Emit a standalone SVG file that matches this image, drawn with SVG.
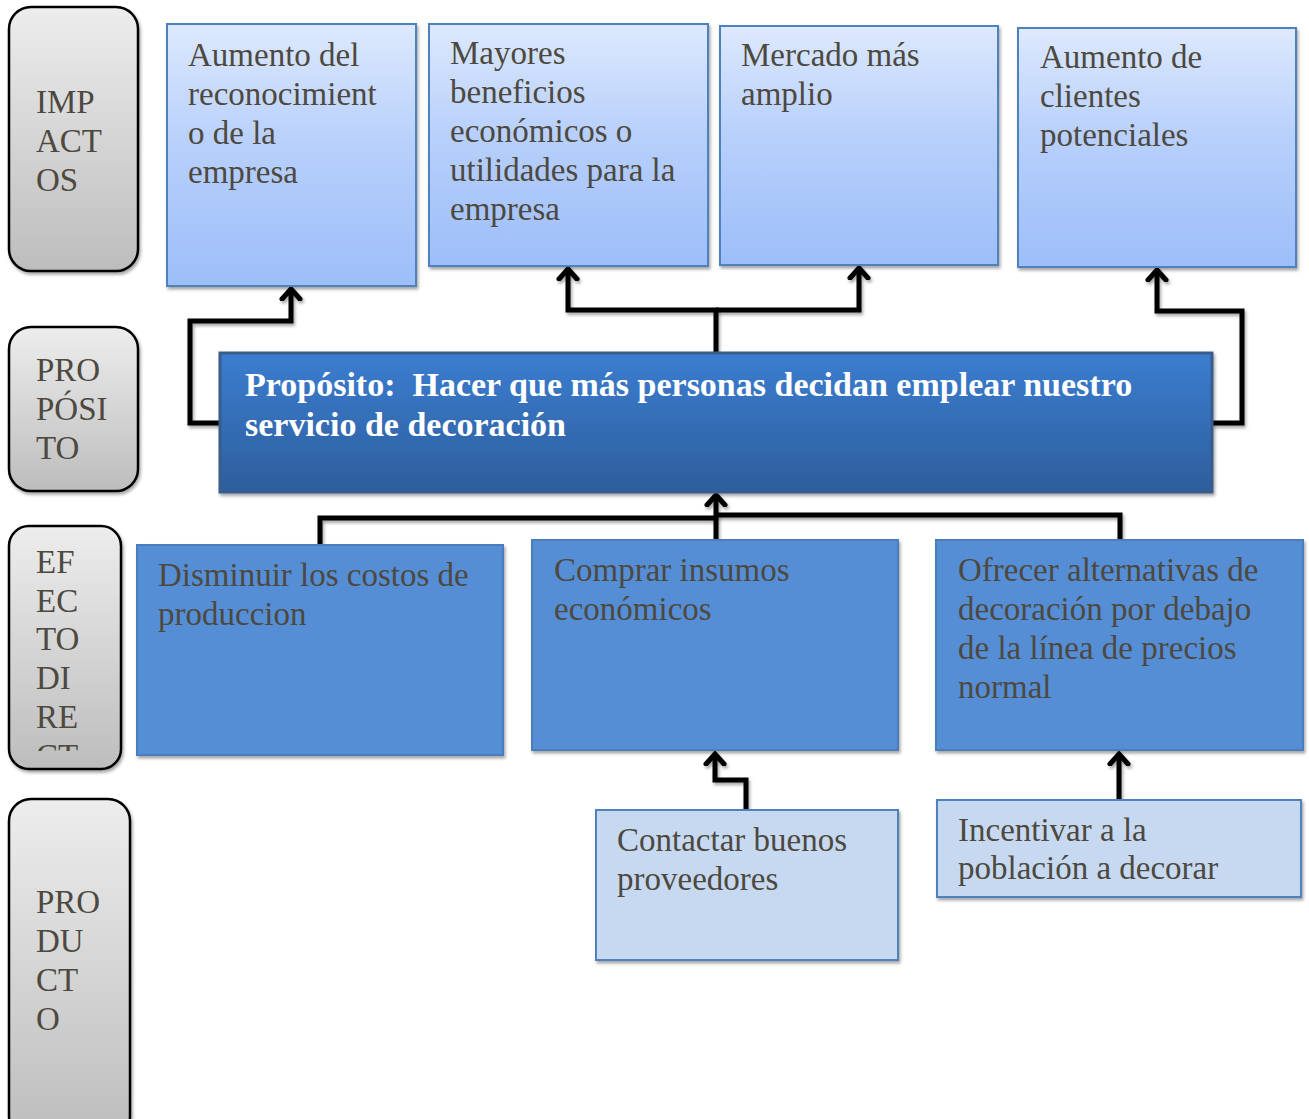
<svg xmlns="http://www.w3.org/2000/svg" width="1309" height="1119" viewBox="0 0 1309 1119">
  <defs>
    <linearGradient id="gGray" x1="0" y1="0" x2="0" y2="1">
      <stop offset="0" stop-color="#ededed"/>
      <stop offset="1" stop-color="#bdbdbd"/>
    </linearGradient>
    <linearGradient id="gLight" x1="0" y1="0" x2="0" y2="1">
      <stop offset="0" stop-color="#dde9fd"/>
      <stop offset="0.45" stop-color="#b8d0fb"/>
      <stop offset="1" stop-color="#9dbef9"/>
    </linearGradient>
    <linearGradient id="gDark" x1="0" y1="0" x2="0" y2="1">
      <stop offset="0" stop-color="#3b7dd0"/>
      <stop offset="1" stop-color="#2e5e9c"/>
    </linearGradient>
    <filter id="shadow" x="-10%" y="-10%" width="120%" height="120%">
      <feDropShadow dx="1.5" dy="2.5" stdDeviation="1.8" flood-color="#000" flood-opacity="0.35"/>
    </filter>
    <!-- lines can have a zero-width box, so their shadow uses a fixed page region -->
    <filter id="lineShadow" filterUnits="userSpaceOnUse" x="0" y="0" width="1309" height="1119">
      <feDropShadow dx="1.5" dy="2.5" stdDeviation="1.8" flood-color="#000" flood-opacity="0.35"/>
    </filter>
    <clipPath id="clipEfecto">
      <rect x="10" y="527" width="110" height="224"/>
    </clipPath>
    <marker id="arrow" markerUnits="userSpaceOnUse" viewBox="-12 -12 24 24" markerWidth="24" markerHeight="24" refX="0" refY="0" orient="auto">
      <path d="M -10 -9 L 0 0 L -10 9" fill="none" stroke="#000" stroke-width="5" stroke-linecap="round" stroke-linejoin="miter"/>
    </marker>
    <style>
      .label { fill: url(#gGray); stroke: #000; stroke-width: 2.5; filter: url(#shadow); }
      .impact { fill: url(#gLight); stroke: #4f81bd; stroke-width: 2; filter: url(#shadow); }
      .purpose { fill: url(#gDark); stroke: #385d8a; stroke-width: 3; filter: url(#shadow); }
      .effect { fill: #558ed5; stroke: #4a7ebb; stroke-width: 2; filter: url(#shadow); }
      .product { fill: #c6d9f1; stroke: #4f81bd; stroke-width: 2; filter: url(#shadow); }
      text { font-family: "Liberation Serif", "DejaVu Serif", serif; font-size: 33px; fill: #4d4940; }
      .bold { font-weight: bold; fill: #ffffff; font-size: 34px; }
      .conn { fill: none; stroke: #000; stroke-width: 5; stroke-linejoin: miter; filter: url(#lineShadow); }
    </style>
  </defs>

  <rect width="1309" height="1119" fill="#ffffff"/>

  <!-- row labels -->
  <g id="label-impactos">
    <rect class="label" x="9" y="7" width="129" height="264" rx="22"/>
    <text x="36" y="113">IMP</text>
    <text x="36" y="152">ACT</text>
    <text x="36" y="191">OS</text>
  </g>
  <g id="label-proposito">
    <rect class="label" x="9" y="327" width="129" height="164" rx="22"/>
    <text x="36" y="381">PRO</text>
    <text x="36" y="420">PÓSI</text>
    <text x="36" y="459">TO</text>
  </g>
  <g id="label-efecto">
    <rect class="label" x="9" y="526" width="112" height="243" rx="20"/>
    <g clip-path="url(#clipEfecto)">
      <text x="36" y="573">EF</text>
      <text x="36" y="612">EC</text>
      <text x="36" y="650">TO</text>
      <text x="36" y="689">DI</text>
      <text x="36" y="728">RE</text>
      <text x="36" y="767">CT</text>
    </g>
  </g>
  <g id="label-producto">
    <rect class="label" x="9" y="799" width="121" height="340" rx="22"/>
    <text x="36" y="913">PRO</text>
    <text x="36" y="952">DU</text>
    <text x="36" y="991">CT</text>
    <text x="36" y="1030">O</text>
  </g>

  <!-- connectors -->
  <g id="connectors">
    <path class="conn" d="M 221 423 L 190 423 L 190 321 L 291 321 L 291 289" marker-end="url(#arrow)"/>
    <path class="conn" d="M 716 353 L 716 310 L 568 310 L 568 269" marker-end="url(#arrow)"/>
    <path class="conn" d="M 716 310 L 859 310 L 859 268" marker-end="url(#arrow)"/>
    <path class="conn" d="M 1212 423 L 1242 423 L 1242 311 L 1157 311 L 1157 270" marker-end="url(#arrow)"/>
    <path class="conn" d="M 320 545 L 320 518 L 716 518"/>
    <path class="conn" d="M 1120 540 L 1120 515 L 716 515"/>
    <path class="conn" d="M 716 540 L 716 495" marker-end="url(#arrow)"/>
    <path class="conn" d="M 746 810 L 746 780 L 715 780 L 715 754" marker-end="url(#arrow)"/>
    <path class="conn" d="M 1119 800 L 1119 754" marker-end="url(#arrow)"/>
  </g>

  <!-- impacts -->
  <g id="impacto-reconocimiento">
    <rect class="impact" x="167" y="24" width="249" height="262"/>
    <text x="188" y="66">Aumento del</text>
    <text x="188" y="105">reconocimient</text>
    <text x="188" y="144">o de la</text>
    <text x="188" y="183">empresa</text>
  </g>
  <g id="impacto-beneficios">
    <rect class="impact" x="429" y="24" width="279" height="242"/>
    <text x="450" y="64">Mayores</text>
    <text x="450" y="103">beneficios</text>
    <text x="450" y="142">económicos o</text>
    <text x="450" y="181">utilidades para la</text>
    <text x="450" y="220">empresa</text>
  </g>
  <g id="impacto-mercado">
    <rect class="impact" x="720" y="26" width="278" height="239"/>
    <text x="741" y="66">Mercado más</text>
    <text x="741" y="105">amplio</text>
  </g>
  <g id="impacto-clientes">
    <rect class="impact" x="1018" y="28" width="278" height="239"/>
    <text x="1040" y="68">Aumento de</text>
    <text x="1040" y="107">clientes</text>
    <text x="1040" y="146">potenciales</text>
  </g>

  <!-- purpose -->
  <g id="proposito">
    <rect class="purpose" x="220" y="353" width="992" height="139"/>
    <text class="bold" x="245" y="396" xml:space="preserve">Propósito:  Hacer que más personas decidan emplear nuestro</text>
    <text class="bold" x="245" y="436">servicio de decoración</text>
  </g>

  <!-- direct effects -->
  <g id="efecto-costos">
    <rect class="effect" x="137" y="545" width="366" height="210"/>
    <text x="158" y="586">Disminuir los costos de</text>
    <text x="158" y="625">produccion</text>
  </g>
  <g id="efecto-insumos">
    <rect class="effect" x="532" y="540" width="366" height="210"/>
    <text x="554" y="581">Comprar insumos</text>
    <text x="554" y="620">económicos</text>
  </g>
  <g id="efecto-alternativas">
    <rect class="effect" x="936" y="540" width="367" height="210"/>
    <text x="958" y="581">Ofrecer alternativas de</text>
    <text x="958" y="620">decoración por debajo</text>
    <text x="958" y="659">de la línea de precios</text>
    <text x="958" y="698">normal</text>
  </g>

  <!-- products -->
  <g id="producto-proveedores">
    <rect class="product" x="596" y="810" width="302" height="150"/>
    <text x="617" y="851">Contactar buenos</text>
    <text x="617" y="890">proveedores</text>
  </g>
  <g id="producto-incentivar">
    <rect class="product" x="937" y="800" width="364" height="97"/>
    <text x="958" y="841">Incentivar a la</text>
    <text x="958" y="879">población a decorar</text>
  </g>
</svg>
